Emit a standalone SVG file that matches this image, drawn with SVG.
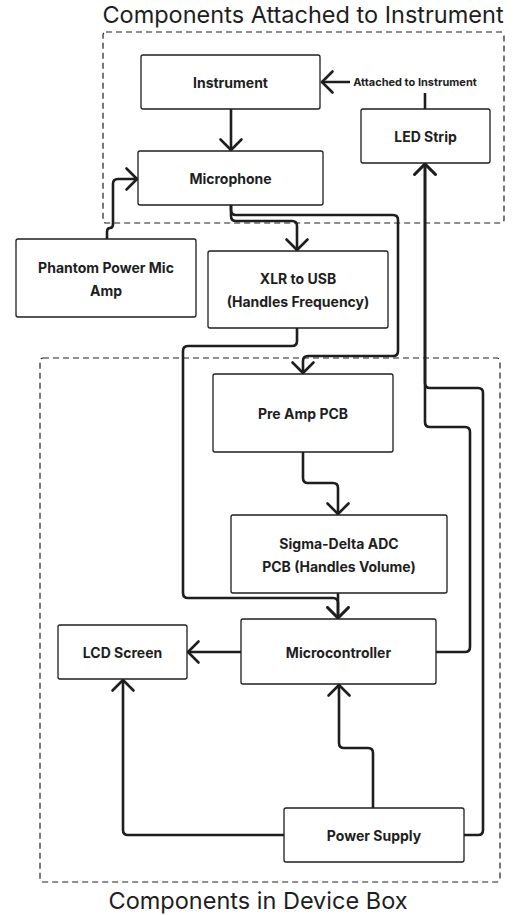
<svg xmlns="http://www.w3.org/2000/svg" width="514" height="915" viewBox="0 0 514 915">
<style>
.bg{fill:#ffffff}
.box{fill:#ffffff;stroke:#1e1e1e;stroke-width:1.3}
.grp{fill:none;stroke:#1e1e1e;stroke-width:1.2;stroke-dasharray:6 4}
.lbl{font-family:Inter,"Liberation Sans",sans-serif;font-size:14px;font-weight:700;fill:#1e1e1e;text-anchor:middle;dominant-baseline:central}
.small{font-family:Inter,"Liberation Sans",sans-serif;font-size:11px;font-weight:700;fill:#1e1e1e;text-anchor:middle;dominant-baseline:central}
.title{font-family:Inter,"Liberation Sans",sans-serif;font-size:23.5px;font-weight:400;fill:#1e1e1e;text-anchor:middle}
.c{fill:none;stroke:#1e1e1e;stroke-width:2.6;stroke-linecap:round;stroke-linejoin:round}
</style>
<defs>
<marker id="ah" markerUnits="userSpaceOnUse" viewBox="-14 -14 28 28" markerWidth="28" markerHeight="28" refX="0" refY="0" orient="auto" overflow="visible">
<path d="M-10.5 -10.5 L0 0 L-10.5 10.5" fill="none" stroke="#1e1e1e" stroke-width="2.6" stroke-linecap="round" stroke-linejoin="round"/>
</marker>
</defs>
<rect class="bg" x="0" y="0" width="514" height="915"/>

<g id="group-instrument">
<rect class="grp" x="103" y="32" width="401" height="191" rx="3"/>
<text class="title" x="303" y="23">Components Attached to Instrument</text>
</g>
<g id="group-device">
<rect class="grp" x="40" y="358" width="460" height="524" rx="3"/>
<text class="title" x="258" y="909">Components in Device Box</text>
</g>

<g id="connectors">
<path class="c" d="M231 109 V150" marker-end="url(#ah)"/>
<path class="c" d="M425 109 V87 Q425 82 420 82 H322" marker-end="url(#ah)"/>
<path class="c" d="M231 205 V216 Q231 221 236 221 H292 Q297 221 297 226 V250" marker-end="url(#ah)"/>
<path class="c" d="M231 205 V210 Q231 215 236 215 H393 Q398 215 398 220 V351 Q398 356 393 356 H308 Q303 356 303 361 V373" marker-end="url(#ah)"/>
<path class="c" d="M107 239 V232 Q107 228 110 228 Q113 228 113 224 V184 Q113 179 118 179 H137" marker-end="url(#ah)"/>
<path class="c" d="M297 328 V341 Q297 346 292 346 H188 Q183 346 183 351 V593 Q183 598 188 598 H333 Q338 598 338 603 V618" marker-end="url(#ah)"/>
<path class="c" d="M303 452 V478 Q303 483 308 483 H333 Q338 483 338 488 V514" marker-end="url(#ah)"/>
<path class="c" d="M338 593 V618" marker-end="url(#ah)"/>
<path class="c" d="M241 652 H188" marker-end="url(#ah)"/>
<path class="c" d="M284 835 H128 Q123 835 123 830 V680" marker-end="url(#ah)"/>
<path class="c" d="M373 808 V753 Q373 748 368 748 H344 Q339 748 339 743 V685" marker-end="url(#ah)"/>
<path class="c" d="M464 835 H478 Q483 835 483 830 V393 Q483 388 478 388 H430 Q425 388 425 383 V164" marker-end="url(#ah)"/>
<path class="c" d="M436 652 H465 Q470 652 470 647 V432 Q470 427 465 427 H430 Q425 427 425 422 V164" marker-end="url(#ah)"/>
<rect class="bg" x="350" y="74" width="130" height="19"/>
<text class="small" x="415" y="82">Attached to Instrument</text>
</g>

<g id="instrument">
<rect class="box" x="141" y="55" width="179" height="54" rx="2"/>
<text class="lbl" x="230.5" y="82">Instrument</text>
</g>
<g id="microphone">
<rect class="box" x="138" y="151" width="185" height="54" rx="2"/>
<text class="lbl" x="230.5" y="178">Microphone</text>
</g>
<g id="led-strip">
<rect class="box" x="361" y="109" width="129" height="54" rx="2"/>
<text class="lbl" x="425.5" y="136">LED Strip</text>
</g>
<g id="phantom-power">
<rect class="box" x="16" y="239" width="180" height="78" rx="2"/>
<text class="lbl" x="106" y="267">Phantom Power Mic</text>
<text class="lbl" x="106" y="290">Amp</text>
</g>
<g id="xlr-usb">
<rect class="box" x="208" y="251" width="180" height="77" rx="2"/>
<text class="lbl" x="298" y="278">XLR to USB</text>
<text class="lbl" x="298" y="301">(Handles Frequency)</text>
</g>
<g id="pre-amp">
<rect class="box" x="213" y="374" width="180" height="78" rx="2"/>
<text class="lbl" x="303" y="413">Pre Amp PCB</text>
</g>
<g id="sigma-delta">
<rect class="box" x="231" y="515" width="216" height="78" rx="2"/>
<text class="lbl" x="339" y="543">Sigma-Delta ADC</text>
<text class="lbl" x="339" y="566">PCB (Handles Volume)</text>
</g>
<g id="microcontroller">
<rect class="box" x="241" y="619" width="195" height="65" rx="2"/>
<text class="lbl" x="338.5" y="652">Microcontroller</text>
</g>
<g id="lcd-screen">
<rect class="box" x="58" y="625" width="129" height="54" rx="2"/>
<text class="lbl" x="122.5" y="652">LCD Screen</text>
</g>
<g id="power-supply">
<rect class="box" x="284" y="808" width="180" height="54" rx="2"/>
<text class="lbl" x="374" y="835">Power Supply</text>
</g>
</svg>
